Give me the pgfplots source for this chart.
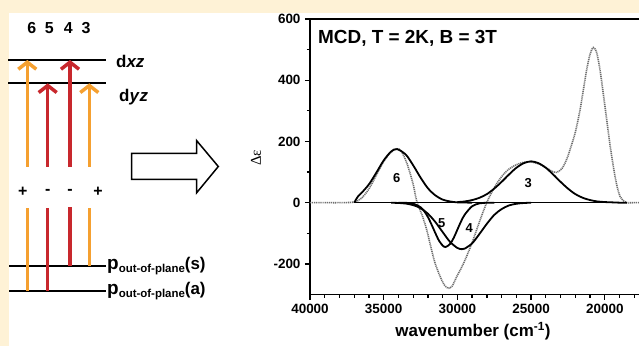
\documentclass[border=0pt]{standalone}
\usepackage{fontspec}
\setmainfont{Liberation Sans}
\newfontfamily\seriffont{Liberation Serif}
\usepackage{pgfplots}
\pgfplotsset{compat=1.18}
\usetikzlibrary{arrows.meta}
\definecolor{cream}{RGB}{254,242,214}
\definecolor{arrorange}{RGB}{245,160,48}
\definecolor{arrred}{RGB}{200,40,45}
\definecolor{expgray}{RGB}{110,110,110}
\begin{document}
\begin{tikzpicture}
\useasboundingbox (0,0) rectangle (639bp,346bp);
\clip (0,0) rectangle (639bp,346bp);
\begin{scope}[x=1bp,y=1bp]
\fill[cream] (0,0) rectangle (639,346);
\fill[white] (9.3,0) rectangle (639,332.7);
\end{scope}

% ---------- energy level diagram (pixel coordinates, y downwards) ----------
\begin{axis}[at={(0,0)}, anchor=south west, scale only axis,
  width=639bp, height=346bp, xmin=0, xmax=639, ymin=0, ymax=346,
  y dir=reverse, axis lines=none, clip=false]
  % levels
  \addplot[black, line width=1.8bp] coordinates {(8,60)(106,60)};
  \addplot[black, line width=1.8bp] coordinates {(8,83.3)(106,83.3)};
  \addplot[black, line width=1.8bp] coordinates {(9,265.7)(106,265.7)};
  \addplot[black, line width=1.8bp] coordinates {(9,290.7)(106,290.7)};
  % lower arrow segments
  \addplot[arrorange, line width=3.5bp] coordinates {(27.3,290.7)(27.3,208)};
  \addplot[arrred, line width=3.5bp] coordinates {(47.7,290.7)(47.7,208)};
  \addplot[arrred, line width=3.5bp] coordinates {(70,265.7)(70,206.7)};
  \addplot[arrorange, line width=3.5bp] coordinates {(89.3,265.7)(89.3,208)};
  % upper arrow segments
  \addplot[arrorange, line width=3.5bp, -{Straight Barb[length=7bp,width=18bp]}] coordinates {(27.3,166.7)(27.3,60)};
  \addplot[arrred, line width=3.5bp, -{Straight Barb[length=7bp,width=18bp]}] coordinates {(47.7,166.7)(47.7,83.3)};
  \addplot[arrred, line width=3.5bp, -{Straight Barb[length=7bp,width=18bp]}] coordinates {(70,166.7)(70,60)};
  \addplot[arrorange, line width=3.5bp, -{Straight Barb[length=7bp,width=18bp]}] coordinates {(89.3,166.7)(89.3,83.3)};
  % big open arrow
  \draw[fill=white, draw=black, line width=1.5bp, line join=miter]
    (axis cs:131.7,153.3) -- (axis cs:196.7,153.3) -- (axis cs:196.7,140.7)
    -- (axis cs:218.3,166.5) -- (axis cs:196.7,192.7) -- (axis cs:196.7,179.3)
    -- (axis cs:131.7,179.3) -- cycle;
\end{axis}

% ---------- MCD spectrum ----------
\begin{axis}[at={(310bp,51.5bp)}, anchor=south west, scale only axis,
  width=368.5bp, height=275.5bp,
  xmin=15000, xmax=40000, x dir=reverse,
  ymin=-300, ymax=600,
  xtick={20000,25000,30000,35000,40000},
  minor xtick={16000,17000,18000,19000,21000,22000,23000,24000,26000,27000,28000,29000,31000,32000,33000,34000,36000,37000,38000,39000},
  ytick={-200,0,200,400,600},
  minor ytick={-100,100,300,500},
  xtick pos=left, ytick pos=left, tick align=outside,
  major tick length=5bp, minor tick length=3bp,
  axis line style={line width=1.5bp},
  every tick/.style={black, line width=1.3bp},
  tick label style={font=\bfseries\fontsize{13.5}{14}\selectfont},
  /pgf/number format/assume math mode=true,
  x tick label style={/pgf/number format/1000 sep={}},
  scaled x ticks=false,
  xticklabel shift=1bp, yticklabel shift=1bp]

  % experimental spectrum (dotted grey)
  \addplot[expgray, line width=1.6bp, dash pattern=on 1.1bp off 0.8bp, smooth, tension=0.5] coordinates {
    (40000,0)(39000,0)(38000,0)(37000,2)(36500,15)(36000,45)(35500,90)(35000,135)
    (34500,165)(34100,176)(33800,168)(33400,125)(33000,60)(32760,5)(32400,-40)
    (32085,-88)(31800,-145)(31520,-197)(31180,-240)(30900,-268)(30615,-280)
    (30350,-272)(30050,-242)(29700,-210)(29370,-175)(29000,-130)(28690,-88)
    (28350,-42)(28010,0)(27670,34)(27335,62)(26950,88)(26550,108)(26000,124)
    (25500,132)(25000,133)(24500,127)(24000,115)(23600,103)(23265,99)(22900,112)
    (22600,140)(22360,173)(22000,230)(21680,303)(21450,370)(21230,434)(21000,485)
    (20780,507)(20550,490)(20326,434)(20100,355)(19870,271)(19650,190)(19420,118)
    (19200,60)(18970,21)(18700,5)(18500,0)(18000,0)(17500,0)(15000,0)};

  % baseline
  \addplot[black, line width=1.6bp] coordinates {(37000,0)(18500,0)};

  % band 6
  \addplot[black, line width=1.8bp, smooth] coordinates {
    (37000,0)(36750,20)(36500,32)(36000,60)(35500,98)(35000,138)(34500,167)(34100,175)
    (33500,157)(33000,122)(32500,82)(32000,47)(31500,24)(31000,10)(30500,4)(30000,1)(29000,0)};
  % band 3
  \addplot[black, line width=1.8bp, smooth] coordinates {
    (30000,2)(29500,4)(29000,8.5)(28500,16)(28000,28)(27500,46)(27000,68)(26500,92)
    (26000,114)(25500,129)(25000,135)(24500,129)(24000,114)(23500,92)(23000,68)
    (22500,46)(22000,28)(21500,16)(21000,8.5)(20500,4)(20000,2)(19500,1)(19000,0)(18500,0)};
  % band 5
  \addplot[black, line width=1.8bp, smooth] coordinates {
    (34000,0)(33500,-0.5)(33000,-3.3)(32500,-15)(32250,-28)(32000,-47)(31750,-72)(31500,-99)
    (31250,-124)(31000,-140)(30800,-145)(30500,-135)(30250,-115)(30000,-88)(29750,-61)
    (29500,-39)(29000,-11.5)(28500,-2.3)(28000,-0.3)(27500,0)};
  % band 4
  \addplot[black, line width=1.8bp, smooth] coordinates {
    (34500,-0.3)(34000,-1)(33500,-3)(33000,-8)(32500,-18)(32000,-36)(31500,-63)
    (31000,-96)(30500,-128)(30000,-148)(29700,-152)(29500,-150)(29000,-133)(28500,-102)
    (28000,-69)(27500,-40)(27000,-21)(26500,-9)(26000,-3.6)(25500,-1.2)(25000,0)};

  \node[font=\bfseries\fontsize{13}{13}\selectfont] at (axis cs:34120,80) {6};
  \node[font=\bfseries\fontsize{13}{13}\selectfont] at (axis cs:25190,64) {3};
  \node[font=\bfseries\fontsize{13}{13}\selectfont] at (axis cs:31070,-68) {5};
  \node[font=\bfseries\fontsize{13}{13}\selectfont] at (axis cs:29200,-83) {4};
\end{axis}

\begin{scope}[x=1bp,y=1bp]
% diagram text
\begin{scope}[every node/.style={font=\bfseries\fontsize{16}{16}\selectfont, inner sep=0pt}]
\node at (31.7,318) {6};
\node at (49.3,318) {5};
\node at (68.3,318) {4};
\node at (86,318) {3};
\node at (22.7,154.3) {+};
\node at (47.7,154.3) {-};
\node at (70,154.3) {-};
\node at (98,154.3) {+};
\end{scope}
\node[anchor=west, inner sep=0pt, font=\bfseries\fontsize{17}{17}\selectfont] at (116,285) {d\textit{xz}};
\node[anchor=west, inner sep=0pt, font=\bfseries\fontsize{17}{17}\selectfont] at (119,249) {d\textit{y}\textit{z}};
\node[anchor=west, inner sep=0pt, font=\bfseries] at (107,80)
  {{\fontsize{19}{19}\selectfont p}{\fontsize{11.5}{12}\selectfont\raisebox{-2.5bp}{out-of-plane}}{\fontsize{17}{17}\selectfont(s)}};
\node[anchor=west, inner sep=0pt, font=\bfseries] at (107,55)
  {{\fontsize{19}{19}\selectfont p}{\fontsize{11.5}{12}\selectfont\raisebox{-2.5bp}{out-of-plane}}{\fontsize{17}{17}\selectfont(a)}};

\node[anchor=west, inner sep=0pt, font=\bfseries\fontsize{19}{20}\selectfont] at (318,308) {MCD, T = 2K, B = 3T};
\node[font=\bfseries\fontsize{17}{18}\selectfont] at (473,15) {wavenumber (cm\textsuperscript{-1})};
\node[rotate=90, font=\seriffont\fontsize{15}{15}\selectfont] at (256,188) {Δε};
\end{scope}
\end{tikzpicture}
\end{document}
